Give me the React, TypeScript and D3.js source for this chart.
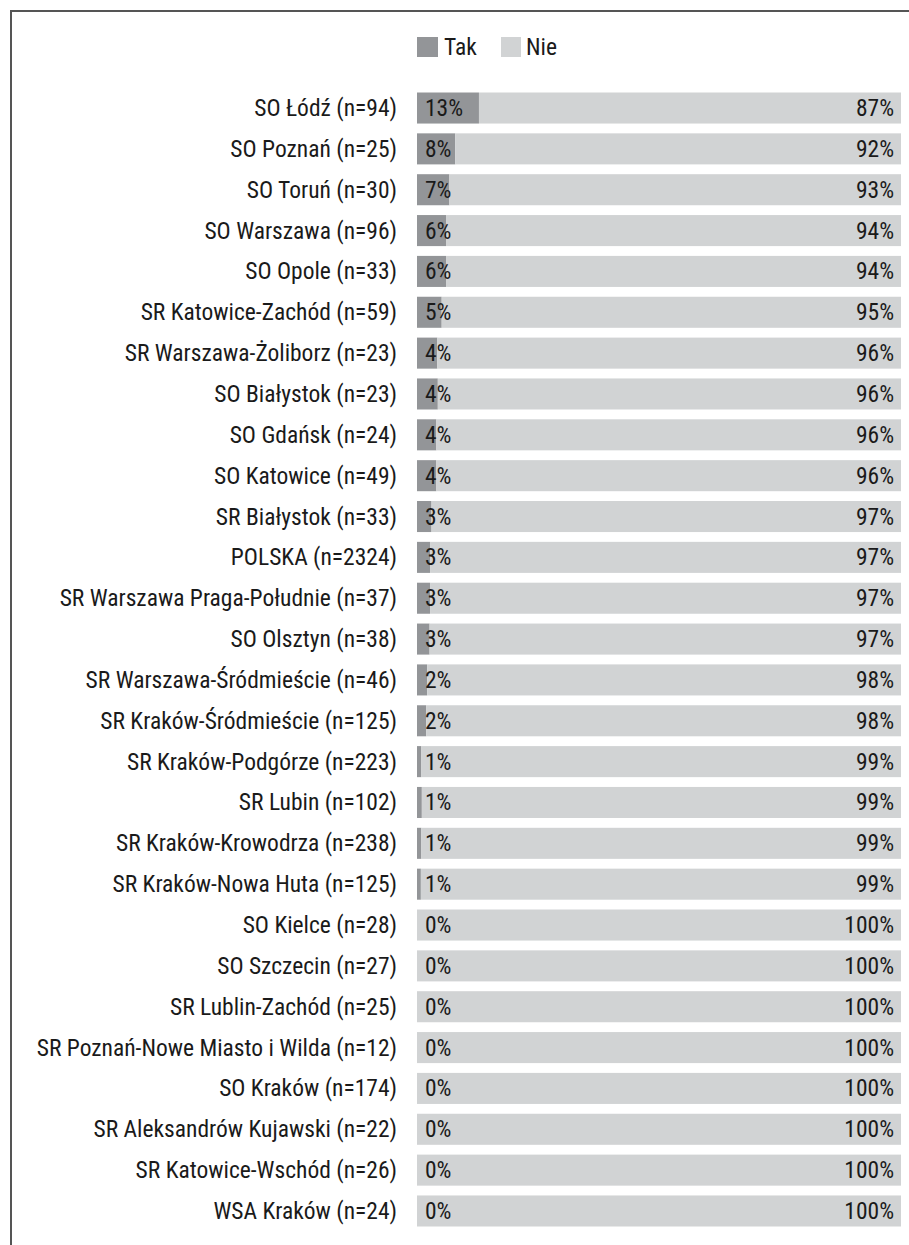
import React from "react";
import * as d3 from "d3";

const categories = [
  "SO Łódź (n=94)",
  "SO Poznań (n=25)",
  "SO Toruń (n=30)",
  "SO Warszawa (n=96)",
  "SO Opole (n=33)",
  "SR Katowice-Zachód (n=59)",
  "SR Warszawa-Żoliborz (n=23)",
  "SO Białystok (n=23)",
  "SO Gdańsk (n=24)",
  "SO Katowice (n=49)",
  "SR Białystok (n=33)",
  "POLSKA (n=2324)",
  "SR Warszawa Praga-Południe (n=37)",
  "SO Olsztyn (n=38)",
  "SR Warszawa-Śródmieście (n=46)",
  "SR Kraków-Śródmieście (n=125)",
  "SR Kraków-Podgórze (n=223)",
  "SR Lubin (n=102)",
  "SR Kraków-Krowodrza (n=238)",
  "SR Kraków-Nowa Huta (n=125)",
  "SO Kielce (n=28)",
  "SO Szczecin (n=27)",
  "SR Lublin-Zachód (n=25)",
  "SR Poznań-Nowe Miasto i Wilda (n=12)",
  "SO Kraków (n=174)",
  "SR Aleksandrów Kujawski (n=22)",
  "SR Katowice-Wschód (n=26)",
  "WSA Kraków (n=24)",
];

const takValues = [
  12.8, 7.9, 6.7, 6.0, 6.0, 5.1, 4.2, 4.3, 4.0, 4.0, 3.0, 2.7, 2.7, 2.6, 2.1,
  1.9, 0.9, 1.0, 0.9, 0.8, 0, 0, 0, 0, 0, 0, 0, 0,
];
const nieValues = takValues.map((v) => 100 - v);

const seriesNames = ["Tak", "Nie"];
const seriesColors = ["#939598", "#d1d3d4"];

const FONT = "'Roboto Condensed', 'Roboto', sans-serif";
const FS = 23.5;

export default function App() {
  const W = 909;
  const H = 1245;
  const x = d3.scaleLinear().domain([0, 100]).range([417, 901]);
  const y = d3
    .scaleBand<string>()
    .domain(categories)
    .range([92.5, 1226.5])
    .paddingInner(0.24)
    .paddingOuter(0);
  const bh = y.bandwidth();

  return (
    <svg
      width={W}
      height={H}
      style={{ position: "absolute", left: 0, top: 0, display: "block", background: "#fff" }}
      fontFamily={FONT}
      fontStretch="condensed"
    >
      <rect x={0} y={0} width={W} height={H} fill="#fff" />
      {/* frame */}
      <path d={`M11,${H + 5} L11,11 L${W + 5},11`} fill="none" stroke="#555555" strokeWidth={2} />

      {/* legend */}
      <g>
        <rect x={417} y={37} width={21} height={20} fill={seriesColors[0]} />
        <text x={444} y={47} dominantBaseline="central" fontSize={FS} fill="#1a1a1a">
          {seriesNames[0]}
        </text>
        <rect x={501} y={37} width={20} height={20} fill={seriesColors[1]} />
        <text x={526} y={47} dominantBaseline="central" fontSize={FS} fill="#1a1a1a">
          {seriesNames[1]}
        </text>
      </g>

      {categories.map((c, i) => {
        const y0 = y(c)!;
        const cy = y0 + bh / 2;
        const t = takValues[i];
        const n = nieValues[i];
        return (
          <g key={c}>
            <text x={397} y={cy} textAnchor="end" dominantBaseline="central" fontSize={FS} fill="#1a1a1a">
              {c}
            </text>
            <rect x={x(0)} y={y0} width={x(t) - x(0)} height={bh} fill={seriesColors[0]} />
            <rect x={x(t)} y={y0} width={x(t + n) - x(t)} height={bh} fill={seriesColors[1]} />
            <text x={x(0) + 8} y={cy} dominantBaseline="central" fontSize={FS} fill="#1a1a1a">
              {Math.round(t)}%
            </text>
            <text x={x(100) - 7} y={cy} textAnchor="end" dominantBaseline="central" fontSize={FS} fill="#1a1a1a">
              {Math.round(n)}%
            </text>
          </g>
        );
      })}
    </svg>
  );
}
